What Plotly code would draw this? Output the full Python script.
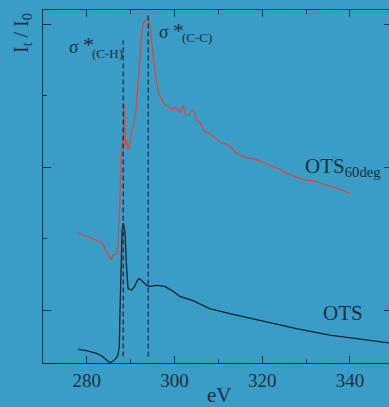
import plotly.graph_objects as go

# ---- data ----
ots_ev = [278.0, 279.9, 282.2, 283.4, 284.3, 284.9, 285.2, 285.9, 286.6, 287.1, 287.4,
          287.55, 287.75, 288.05, 288.35, 288.7, 289.05, 289.4, 290.2, 290.9, 291.4,
          291.9, 292.4, 292.8, 293.75, 294.4, 295.9, 297.8, 299.7, 301.2, 304.2,
          308.0, 312.6, 320.2, 327.8, 335.4, 342.3, 348.9]
ots_int = [0.450, 0.431, 0.394, 0.357, 0.31, 0.277, 0.263, 0.283, 0.319, 0.371, 0.487,
           0.96, 1.606, 2.12, 2.21, 2.08, 1.61, 1.30, 1.28, 1.33, 1.40,
           1.44, 1.42, 1.39, 1.34, 1.33, 1.345, 1.33, 1.26, 1.19, 1.13,
           1.02, 0.95, 0.84, 0.74, 0.65, 0.59, 0.54]

ots60_ev = [277.9, 278.6, 279.5, 280.3, 281.1, 282.0, 283.0, 283.6, 284.1, 284.5, 284.9,
            285.3, 285.6, 285.9, 286.2, 286.8, 287.1, 287.3, 287.5, 287.8, 288.1, 288.4,
            288.55, 288.75, 289.05, 289.4, 289.8, 290.2, 290.7, 291.2, 291.7, 292.3,
            292.8, 293.3, 293.8, 294.4, 295.1, 295.9, 296.5, 297.0, 297.8, 298.5, 299.3,
            300.1, 300.4, 301.0, 301.4, 302.0, 302.3, 302.7, 303.3, 304.0, 304.5, 304.9,
            305.8, 306.9, 307.7, 308.8, 309.9, 310.7, 311.5, 312.6, 313.8, 314.9, 316.0,
            317.2, 318.7, 320.0, 321.3, 322.6, 324.0, 325.5, 326.6, 327.8, 329.7, 331.6,
            333.2, 334.7, 336.9, 338.5, 340.0]
ots60_int = [2.08, 2.06, 2.035, 2.03, 2.00, 1.98, 1.955, 1.92, 1.86, 1.80, 1.745,
             1.72, 1.71, 1.77, 1.77, 1.79, 1.885, 2.1, 2.445, 3.1, 3.38, 3.55,
             3.88, 3.3, 3.38, 3.24, 3.33, 3.49, 3.61, 3.77, 4.19, 4.71,
             4.99, 5.05, 5.07, 4.99, 4.57, 4.19, 4.01, 3.96, 3.87, 3.85, 3.82,
             3.82, 3.83, 3.77, 3.77, 3.87, 3.77, 3.72, 3.72, 3.80, 3.77, 3.66,
             3.63, 3.49, 3.48, 3.43, 3.38, 3.33, 3.33, 3.29, 3.21, 3.17, 3.14,
             3.12, 3.10, 3.07, 3.04, 3.01, 2.97, 2.91, 2.89, 2.86, 2.82, 2.81,
             2.78, 2.75, 2.70, 2.67, 2.63]

peak_ev = [288.3, 294.0]
peak_top = [4.77, 5.15]
peak_bottom = 0.35

x_ticks = [280, 300, 320, 340]

# ---- style ----
BG = "#399dc7"
INK = "#1b3140"
FONT = "Liberation Serif"

W, H = 389, 407
L, R, T, B = 43, 0, 10, 44
PW, PH = W - L - R, H - T - B
XR = [270, 270 + PW / 4.385]
YR = [1 - 53 / 71.5, 1 - 53 / 71.5 + PH / 71.5]


def px(x):
    return (x - L) / PW


def py(y):
    return (H - B - y) / PH


fig = go.Figure()
fig.add_trace(go.Scatter(x=ots_ev, y=ots_int, mode="lines",
                         line=dict(color="#15242d", width=1.3), showlegend=False))
fig.add_trace(go.Scatter(x=ots60_ev, y=ots60_int, mode="lines",
                         line=dict(color="#e8432e", width=1.2), showlegend=False))
# right-hand tick axis
fig.add_trace(go.Scatter(x=[None], y=[None], yaxis="y2", showlegend=False))

for xe, yt in zip(peak_ev, peak_top):
    fig.add_shape(type="line", x0=xe, x1=xe, y0=peak_bottom, y1=yt, xref="x", yref="y",
                  line=dict(color=INK, width=1.3, dash="5px,3px"))

ann = []


def txt(t, x, y, size, xa="center", ya="middle", angle=0):
    ann.append(dict(text=t, x=px(x), y=py(y), xref="paper", yref="paper",
                    showarrow=False, xanchor=xa, yanchor=ya, textangle=angle,
                    font=dict(family=FONT, size=size, color=INK)))


txt("σ", 74, 47, 18)
txt("*", 88, 45, 22)
txt("(C-H)", 107, 53, 13)
txt("σ", 164, 32, 18)
txt("*", 178, 30, 22)
txt("(C-C)", 197, 38, 13)
txt("OTS<sub>60deg</sub>", 303, 167, 21, xa="left")
txt("OTS", 343, 313, 21)
txt("eV", 219, 395, 21)
txt("I<sub>t</sub> / I<sub>0</sub>", 22, 33, 20, angle=-90)

fig.update_layout(
    width=W, height=H, margin=dict(l=L, r=R, t=T, b=B),
    paper_bgcolor=BG, plot_bgcolor=BG, annotations=ann,
    xaxis=dict(range=XR, showgrid=False, zeroline=False, showline=True, linecolor=INK,
               linewidth=1.3, mirror="ticks", ticks="inside", ticklen=7, tickwidth=1.3,
               tickcolor=INK, tickvals=x_ticks, ticktext=[str(v) for v in x_ticks],
               tickfont=dict(family=FONT, size=19, color=INK),
               minor=dict(dtick=10, tick0=270, ticks="inside", ticklen=4, tickwidth=1.3,
                          tickcolor=INK)),
    yaxis=dict(range=YR, showgrid=False, zeroline=False, showline=True, linecolor=INK,
               linewidth=1.3, mirror=False, ticks="inside", ticklen=8, tickwidth=1.3,
               tickcolor=INK, tick0=1, dtick=2, showticklabels=False,
               minor=dict(dtick=1, tick0=1, ticks="inside", ticklen=4, tickwidth=1.3,
                          tickcolor=INK)),
    yaxis2=dict(range=YR, overlaying="y", side="right", showgrid=False, zeroline=False,
                showline=False, ticks="inside", ticklen=5, tickwidth=1.3, tickcolor=INK,
                tick0=1, dtick=2, showticklabels=False),
)

fig.write_html("out.html", config={"displayModeBar": False},
               post_script="document.body.style.margin='0px';"
                           "document.body.style.background='" + BG + "';")
